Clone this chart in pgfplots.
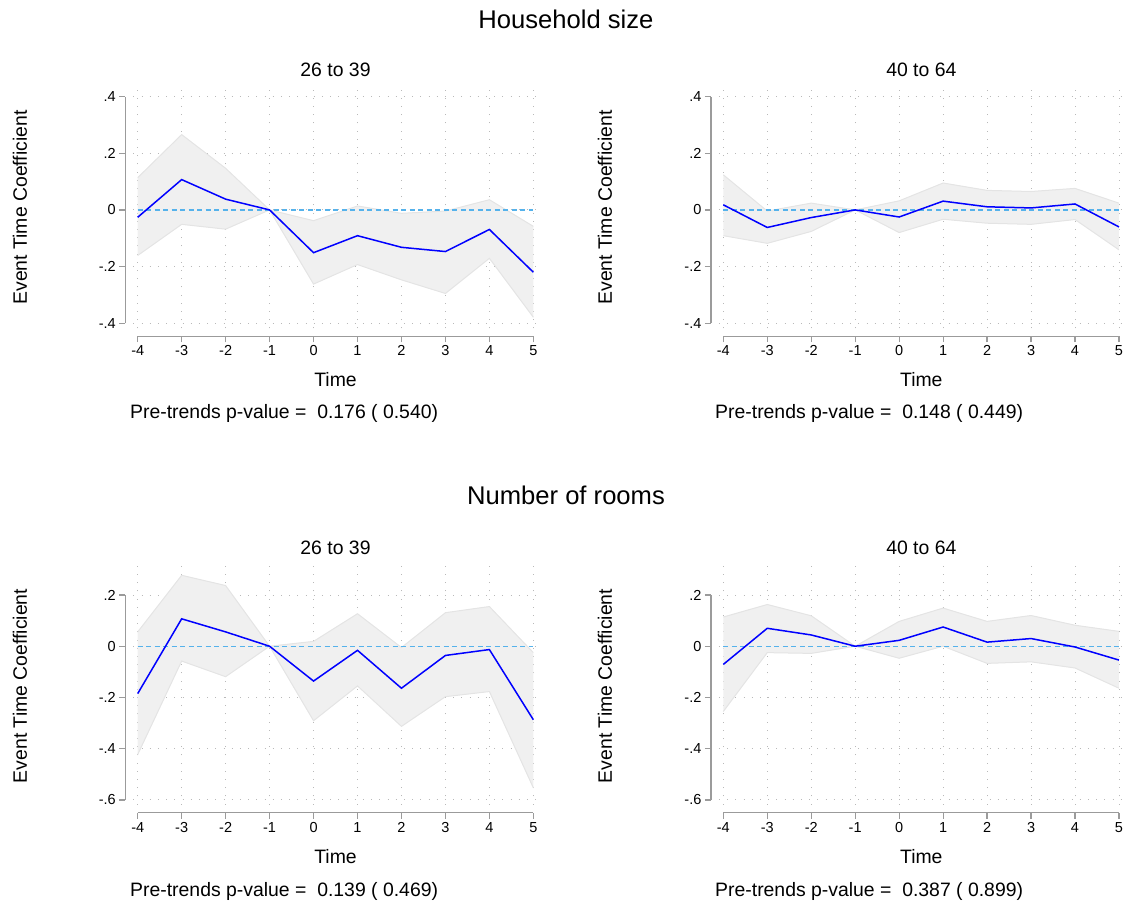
\documentclass[border=0pt]{standalone}
\usepackage{fontspec}
\setmainfont{Liberation Sans}
\usepackage{pgfplots}
\pgfplotsset{compat=1.18}
\usepackage{pgfplotstable}
\usepgfplotslibrary{fillbetween}

\definecolor{axisgray}{RGB}{155,155,155}
\definecolor{gridgray}{RGB}{185,185,185}
\definecolor{cifill}{RGB}{240,240,240}
\definecolor{ciedge}{RGB}{228,228,228}
\definecolor{zeroblue}{RGB}{85,178,235}
\definecolor{estblue}{RGB}{0,0,255}

% event-time estimates: t, coefficient, lower and upper bound
\pgfplotstableread{
t b lo hi
-4 -0.026 -0.161 0.114
-3 0.107 -0.051 0.266
-2 0.038 -0.068 0.147
-1 0 0 0
0 -0.151 -0.262 -0.038
1 -0.091 -0.193 0.014
2 -0.132 -0.247 -0.012
3 -0.147 -0.295 -0.004
4 -0.069 -0.171 0.036
5 -0.220 -0.379 -0.058
}\hsyoung
\pgfplotstableread{
t b lo hi
-4 0.018 -0.091 0.124
-3 -0.062 -0.118 -0.004
-2 -0.027 -0.076 0.024
-1 0 0 0
0 -0.025 -0.080 0.032
1 0.031 -0.033 0.095
2 0.011 -0.047 0.069
3 0.007 -0.051 0.065
4 0.021 -0.034 0.076
5 -0.060 -0.141 0.024
}\hsold
\pgfplotstableread{
t b lo hi
-4 -0.185 -0.423 0.056
-3 0.107 -0.058 0.277
-2 0.056 -0.119 0.237
-1 0 0 0
0 -0.136 -0.291 0.019
1 -0.016 -0.155 0.127
2 -0.164 -0.313 -0.005
3 -0.036 -0.197 0.131
4 -0.013 -0.177 0.155
5 -0.287 -0.553 -0.025
}\nryoung
\pgfplotstableread{
t b lo hi
-4 -0.071 -0.255 0.114
-3 0.070 -0.025 0.163
-2 0.044 -0.028 0.119
-1 0 0 0
0 0.023 -0.047 0.097
1 0.075 0.000 0.149
2 0.016 -0.067 0.097
3 0.030 -0.061 0.120
4 -0.003 -0.085 0.082
5 -0.054 -0.164 0.058
}\nrold

\pgfplotsset{
  evt/.style={
    scale only axis, width=408.4pt,
    xmin=-4.1, xmax=5.19,
    axis x line*=bottom, axis y line*=left,
    axis x line shift=8pt, axis y line shift=8pt,
    tick align=outside, major tick length=6pt,
    xtick={-4,-3,-2,-1,0,1,2,3,4,5},
    xticklabels={-4,-3,-2,-1,0,1,2,3,4,5},
    tick style={axisgray, line width=1.2pt},
    axis line style={axisgray, line width=1.3pt, -},
    x axis line style={shorten <=4.4pt, shorten >=8.4pt},
    grid=major,
    major grid style={gridgray, line width=0.9pt, dash pattern=on 0.9pt off 7.3pt},
    ticklabel style={font=\fontsize{14.5}{16}\selectfont, text=black},
    clip=false,
  },
  toprow/.style={evt, height=241.6pt, ymin=-0.418, ymax=0.435,
    ytick={-0.4,-0.2,0,0.2,0.4}, yticklabels={-.4,-.2,0,.2,.4},
    y axis line style={shorten <=5pt, shorten >=10pt}},
  botrow/.style={evt, height=240.5pt, ymin=-0.618, ymax=0.321,
    ytick={-0.6,-0.4,-0.2,0,0.2}, yticklabels={-.6,-.4,-.2,0,.2},
    y axis line style={shorten <=4.5pt, shorten >=31pt}},
}

% one panel: band, zero reference, point estimates
\newcommand{\eventpanel}[1]{%
  \addplot[name path=hi, ciedge, line width=1pt] table[x=t, y=hi] {#1};
  \addplot[name path=lo, ciedge, line width=1pt] table[x=t, y=lo] {#1};
  \addplot[cifill, draw=none] fill between[of=hi and lo];
  \addplot[zeroblue, line width=1.3pt, dash pattern=on 5pt off 3.5pt] coordinates {(-4,0) (5,0)};
  \addplot[estblue, line width=1.5pt] table[x=t, y=b] {#1};
}

\newcommand{\headfont}{\fontsize{25.6}{30}\selectfont}
\newcommand{\labfont}{\fontsize{19.4}{22}\selectfont}

\begin{document}
\begin{tikzpicture}
\path (0,0) rectangle (1131pt,-905pt);

\node[anchor=base, font=\headfont] at (566pt,-28.3pt) {Household size};
\node[anchor=base, font=\headfont] at (566pt,-504pt) {Number of rooms};

% Household size, 26 to 39
\begin{axis}[toprow, at={(133.3pt,-328.3pt)}, anchor=south west]
  \eventpanel{\hsyoung}
\end{axis}
% Household size, 40 to 64
\begin{axis}[toprow, at={(718.9pt,-328.3pt)}, anchor=south west]
  \eventpanel{\hsold}
\end{axis}
% Number of rooms, 26 to 39
\begin{axis}[botrow, at={(133.3pt,-804.5pt)}, anchor=south west]
  \eventpanel{\nryoung}
\end{axis}
% Number of rooms, 40 to 64
\begin{axis}[botrow, at={(718.9pt,-804.5pt)}, anchor=south west]
  \eventpanel{\nrold}
\end{axis}

% panel titles
\node[anchor=base, font=\labfont] at (335.5pt,-76.8pt) {26 to 39};
\node[anchor=base, font=\labfont] at (921.3pt,-76.8pt) {40 to 64};
\node[anchor=base, font=\labfont] at (335.5pt,-554.8pt) {26 to 39};
\node[anchor=base, font=\labfont] at (921.3pt,-554.8pt) {40 to 64};

% axis titles
\foreach \yc in {207.5,686} {
  \node[rotate=90, font=\labfont] at (20pt,-\yc pt) {Event Time Coefficient};
  \node[rotate=90, font=\labfont] at (605pt,-\yc pt) {Event Time Coefficient};
}
\node[anchor=base, font=\labfont] at (335.5pt,-386.8pt) {Time};
\node[anchor=base, font=\labfont] at (921.3pt,-386.8pt) {Time};
\node[anchor=base, font=\labfont] at (335.5pt,-863.8pt) {Time};
\node[anchor=base, font=\labfont] at (921.3pt,-863.8pt) {Time};

% pre-trend test notes
\node[anchor=base west, font=\labfont, inner sep=0pt] at (130pt,-418.8pt) {Pre-trends p-value =\ \ 0.176 (\ 0.540)};
\node[anchor=base west, font=\labfont, inner sep=0pt] at (715pt,-418.8pt) {Pre-trends p-value =\ \ 0.148 (\ 0.449)};
\node[anchor=base west, font=\labfont, inner sep=0pt] at (130pt,-896.8pt) {Pre-trends p-value =\ \ 0.139 (\ 0.469)};
\node[anchor=base west, font=\labfont, inner sep=0pt] at (715pt,-896.8pt) {Pre-trends p-value =\ \ 0.387 (\ 0.899)};
\end{tikzpicture}
\end{document}
